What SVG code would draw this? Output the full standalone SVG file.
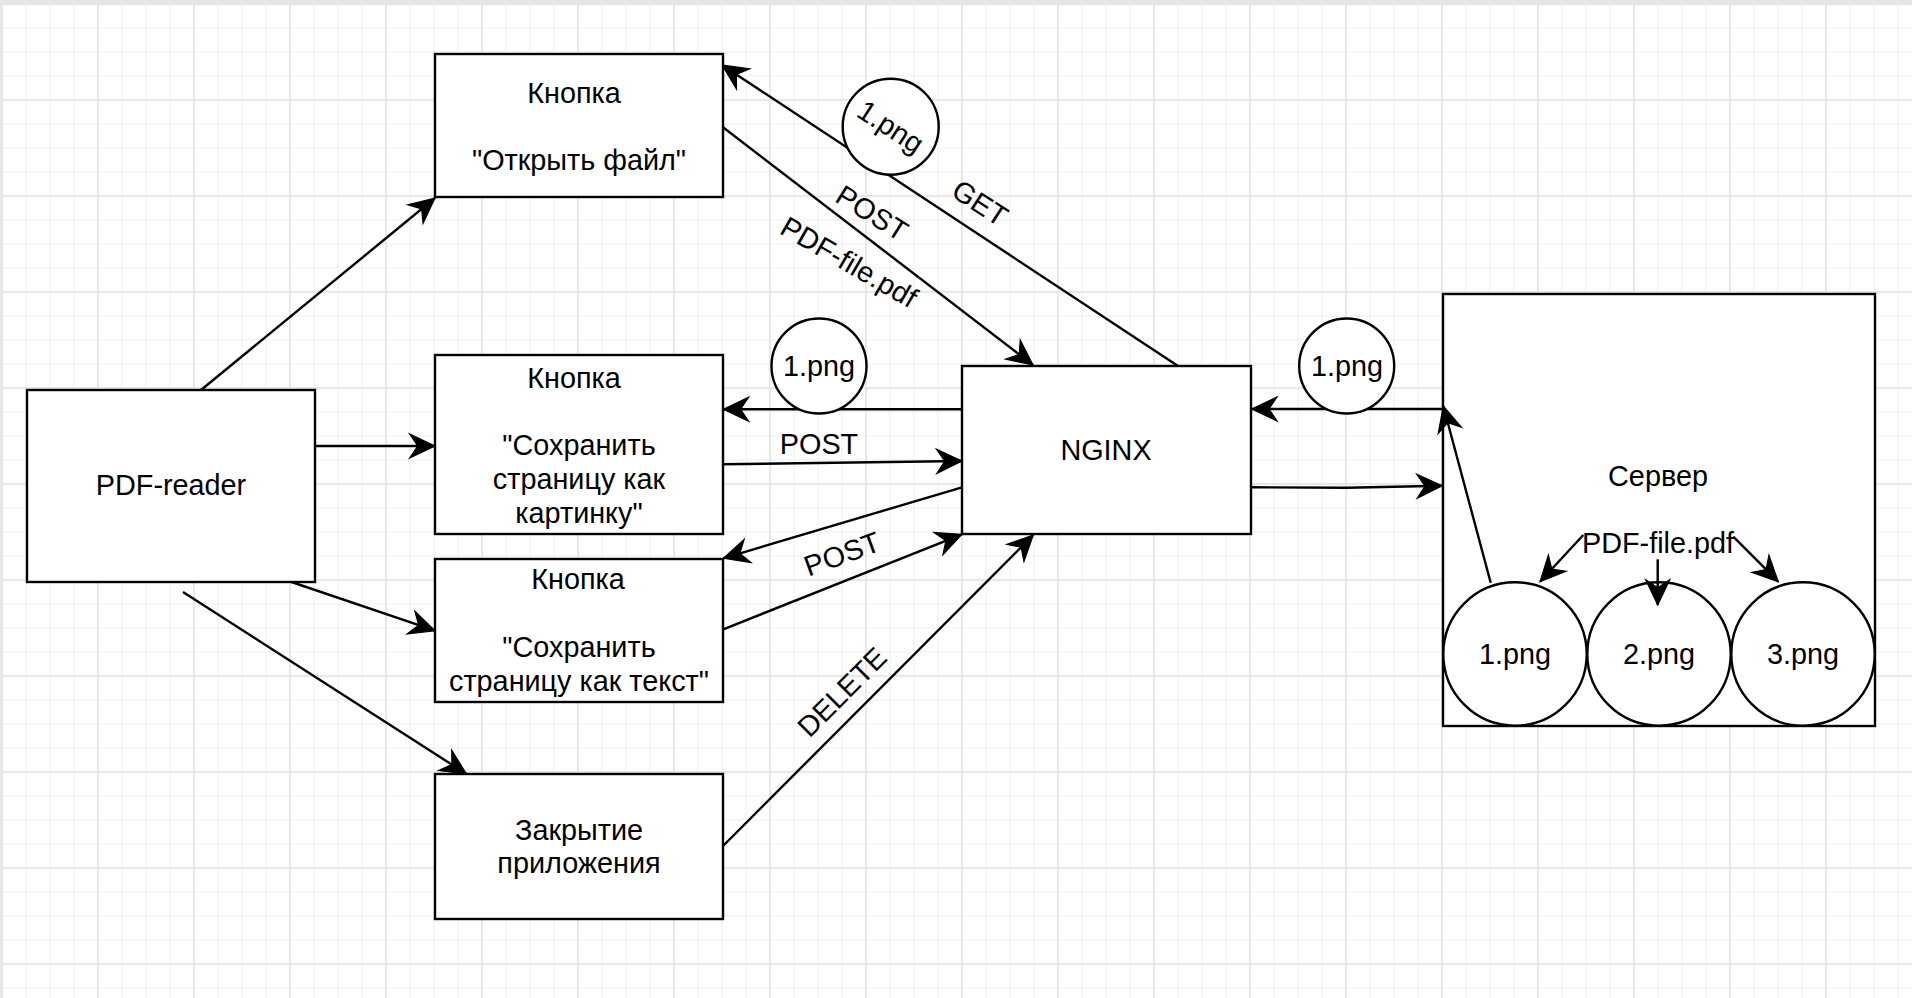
<svg xmlns="http://www.w3.org/2000/svg" width="1912" height="998" viewBox="0 0 1912 998">
  <style>
    .box { fill: #ffffff; stroke: #000000; stroke-width: 2.4; }
    .edge { fill: none; stroke: #000000; stroke-width: 2.4; marker-end: url(#arr); }
    .t { font-family: "Liberation Sans", Arial, Helvetica, sans-serif; font-size: 28.8px; fill: #000000; text-anchor: middle; }
  </style>
  <defs>
    <marker id="arr" markerUnits="userSpaceOnUse" markerWidth="30" markerHeight="30" viewBox="-24 -12 26 24" refX="0" refY="0" orient="auto">
      <path d="M0,0 L-22,-10.5 L-15,0 L-22,10.5 Z" fill="#000000" stroke="#000000" stroke-width="1" stroke-linejoin="miter"/>
    </marker>
    <pattern id="gmin" patternUnits="userSpaceOnUse" x="1.25" y="3.25" width="24" height="24">
      <rect x="0" y="0" width="24" height="1.5" fill="#f3f3f3"/>
      <rect x="0" y="0" width="1.5" height="24" fill="#f3f3f3"/>
    </pattern>
    <pattern id="gmaj" patternUnits="userSpaceOnUse" x="1.25" y="3.25" width="96" height="96">
      <rect x="0" y="0" width="96" height="1.5" fill="#e2e2e2"/>
      <rect x="0" y="0" width="1.5" height="96" fill="#e2e2e2"/>
    </pattern>
  </defs>

  <g id="background">
    <rect x="0" y="0" width="1912" height="998" fill="#ffffff"/>
    <rect x="0" y="0" width="1912" height="998" fill="url(#gmin)"/>
    <rect x="0" y="0" width="1912" height="998" fill="url(#gmaj)"/>
    <rect x="0" y="0" width="1912" height="5" fill="#e6e6e6"/>
    <rect x="0" y="0" width="2" height="998" fill="#e6e6e6"/>
  </g>

  <g id="server">
    <rect class="box" x="1443" y="294" width="432" height="432"/>
    <text class="t" x="1658" y="486">Сервер</text>
    <text class="t" x="1658" y="553">PDF-file.pdf</text>
    <g id="server-1png">
      <circle class="box" cx="1515" cy="654" r="71.7"/>
      <text class="t" x="1515" y="664">1.png</text>
    </g>
    <g id="server-2png">
      <circle class="box" cx="1659" cy="654" r="71.7"/>
      <text class="t" x="1659" y="664">2.png</text>
    </g>
    <g id="server-3png">
      <circle class="box" cx="1803" cy="654" r="71.7"/>
      <text class="t" x="1803" y="664">3.png</text>
    </g>
  </g>

  <g id="connectors">
    <path class="edge" d="M201,390 L435,198"/>
    <path class="edge" d="M315,446 L435,446"/>
    <path class="edge" d="M291.5,582 L435,630.7"/>
    <path class="edge" d="M183,592 L466.5,774"/>
    <path class="edge" d="M1178,366 L722,65"/>
    <path class="edge" d="M723,127.3 L1033,365"/>
    <path class="edge" d="M962,409.3 L723.3,409.3"/>
    <path class="edge" d="M723,464.3 L962,461"/>
    <path class="edge" d="M962,487.3 L723.3,558.3"/>
    <path class="edge" d="M723.3,629.3 L962,534.3"/>
    <path class="edge" d="M723,846 L1033.3,535"/>
    <path class="edge" d="M1443,409 L1251.7,409"/>
    <path class="edge" d="M1251,487.3 L1346.7,487.7 L1442.3,485.7"/>
    <path class="edge" d="M1490.7,582.7 L1443.3,406"/>
    <path class="edge" d="M1583.3,535 L1540,581.7"/>
    <path class="edge" d="M1657.7,559.3 L1657.7,605"/>
    <path class="edge" d="M1733.3,536.7 L1778.3,581.7"/>
  </g>

  <g id="edge-labels">
    <text class="t" transform="translate(980,203) rotate(33)" y="10">GET</text>
    <text class="t" transform="translate(872,213) rotate(32)" y="10">POST</text>
    <text class="t" transform="translate(849,262) rotate(30)" y="10">PDF-file.pdf</text>
    <text class="t" x="819" y="454">POST</text>
    <text class="t" transform="translate(842,554) rotate(-20)" y="10">POST</text>
    <text class="t" transform="translate(842,692) rotate(-45)" y="10">DELETE</text>
  </g>

  <g id="pdf-reader">
    <rect class="box" x="27" y="390" width="288" height="192"/>
    <text class="t" x="171" y="495">PDF-reader</text>
  </g>

  <g id="btn-open">
    <rect class="box" x="435" y="54" width="288" height="143"/>
    <text class="t" x="574" y="103">Кнопка</text>
    <text class="t" x="579" y="170">"Открыть файл"</text>
  </g>

  <g id="btn-save-image">
    <rect class="box" x="435" y="355" width="288" height="179"/>
    <text class="t" x="574" y="388">Кнопка</text>
    <text class="t" x="579" y="455">"Сохранить</text>
    <text class="t" x="579" y="489">страницу как</text>
    <text class="t" x="579" y="523">картинку"</text>
  </g>

  <g id="btn-save-text">
    <rect class="box" x="435" y="559" width="288" height="143"/>
    <text class="t" x="578" y="589">Кнопка</text>
    <text class="t" x="579" y="657">"Сохранить</text>
    <text class="t" x="579" y="691">страницу как текст"</text>
  </g>

  <g id="close-app">
    <rect class="box" x="435" y="774" width="288" height="145"/>
    <text class="t" x="579" y="840">Закрытие</text>
    <text class="t" x="579" y="873">приложения</text>
  </g>

  <g id="nginx">
    <rect class="box" x="962" y="366" width="289" height="168"/>
    <text class="t" x="1106" y="460">NGINX</text>
  </g>

  <g id="token-get">
    <circle class="box" cx="890.7" cy="126.7" r="48"/>
    <text class="t" transform="translate(890.7,126.7) rotate(33)" y="10">1.png</text>
  </g>
  <g id="token-save">
    <circle class="box" cx="819" cy="366" r="47.5"/>
    <text class="t" x="819" y="376">1.png</text>
  </g>
  <g id="token-server">
    <circle class="box" cx="1346.7" cy="366" r="47.5"/>
    <text class="t" x="1347" y="376">1.png</text>
  </g>
</svg>
